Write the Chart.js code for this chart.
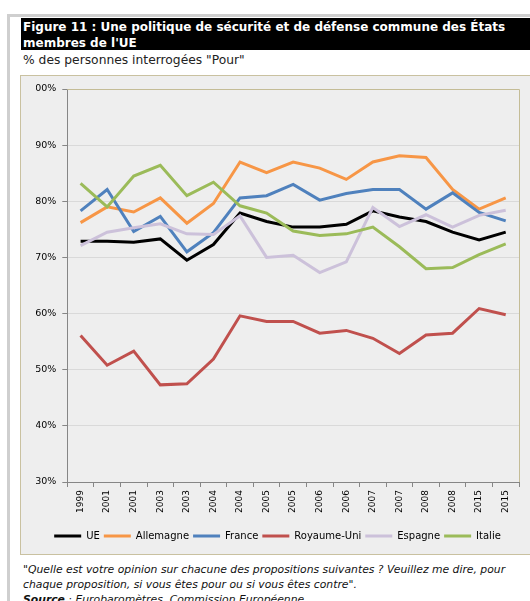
<!DOCTYPE html>
<html>
<head>
<meta charset="utf-8">
<script src="https://cdn.jsdelivr.net/npm/chart.js@4/dist/chart.umd.min.js"></script>
<style>
  body { margin: 0; background: #fff; font-family: "DejaVu Sans", Verdana, sans-serif; overflow: hidden; }
  #frame { position: absolute; left: 7px; top: 14px; width: 600px; height: 700px;
           border-top: 3px solid #cfcfcf; border-left: 3px solid #cfcfcf; }
  #title { position: absolute; left: 21px; top: 18px; width: 520px; height: 32px; background: #000;
           color: #fff; font-weight: bold; font-size: 12px; line-height: 16px; padding: 1px 0 0 2px; box-sizing: border-box; }
  #sub { position: absolute; left: 23px; top: 53px; font-size: 12.3px; color: #222; }
  #box { position: absolute; left: 20px; top: 75px; width: 540px; height: 478px;
         background: #eeeeee; border: 1px solid #c9c1a0; }
  #wrap { position: absolute; left: 20px; top: 76px; width: 510px; height: 477px; }
  #note { position: absolute; left: 23px; top: 562px; font-size: 10.8px; font-style: italic; line-height: 15px; color: #111; }
</style>
</head>
<body>
<div id="frame"></div>
<div id="title">Figure 11 : Une politique de sécurité et de défense commune des États<br>membres de l'UE</div>
<div id="sub">% des personnes interrogées "Pour"</div>
<div id="box"></div>
<div id="wrap"><canvas id="myChart"></canvas></div>
<div id="note">"Quelle est votre opinion sur chacune des propositions suivantes ? Veuillez me dire, pour<br>chaque proposition, si vous êtes pour ou si vous êtes contre".<br><b>Source</b> : Eurobaromètres, Commission Européenne.</div>
<script>
const years = ['1999', '2001', '2001', '2003', '2003', '2004', '2004', '2005', '2005',
    '2006', '2006', '2007', '2007', '2008', '2008', '2015', '2015'];
const ue = [72.9, 72.9, 72.7, 73.3, 69.5, 72.3, 77.9, 76.4, 75.4, 75.4, 75.9, 78.3, 77.2, 76.4, 74.5, 73.1, 74.5];
const allemagne = [76.2, 79.0, 78.1, 80.6, 76.1, 79.6, 87.0, 85.1, 87.0, 85.9, 83.9, 87.0, 88.1, 87.8, 82.1, 78.6, 80.6];
const france = [78.3, 82.1, 74.6, 77.3, 71.0, 74.4, 80.6, 81.0, 83.0, 80.2, 81.4, 82.1, 82.1, 78.6, 81.5, 78.0, 76.5];
const royaumeUni = [56.1, 50.8, 53.3, 47.3, 47.5, 51.9, 59.6, 58.6, 58.6, 56.5, 57.0, 55.6, 52.9, 56.2, 56.5, 60.9, 59.8];
const espagne = [72.1, 74.5, 75.3, 76.0, 74.2, 74.1, 77.4, 70.0, 70.4, 67.3, 69.2, 78.9, 75.5, 77.6, 75.4, 77.5, 78.4];
const italie = [83.2, 79.0, 84.5, 86.4, 81.0, 83.4, 79.2, 77.9, 74.7, 73.9, 74.2, 75.4, 71.9, 68.0, 68.2, 70.5, 72.4];
const yTicks = [30, 40, 50, 60, 70, 80, 90, 100];

const series = [
    { label: 'UE', data: ue, color: '#000000' },
    { label: 'Allemagne', data: allemagne, color: '#f79646' },
    { label: 'France', data: france, color: '#4f81bd' },
    { label: 'Royaume-Uni', data: royaumeUni, color: '#c0504d' },
    { label: 'Espagne', data: espagne, color: '#ccc1da' },
    { label: 'Italie', data: italie, color: '#9bbb59' }
];

// top and right border of the plot area
const plotBorder = {
    id: 'plotBorder',
    afterDraw(chart) {
        const { ctx, chartArea: a } = chart;
        ctx.save();
        ctx.strokeStyle = '#c4bc96';
        ctx.lineWidth = 1;
        ctx.beginPath();
        ctx.moveTo(a.left, a.top + 0.5);
        ctx.lineTo(a.right + 0.5, a.top + 0.5);
        ctx.lineTo(a.right + 0.5, a.bottom);
        ctx.stroke();
        ctx.restore();
    }
};

function localChart() {
    const inf = {
        labels: years,
        datasets: series.map((s, i) => ({
            label: s.label,
            data: s.data,
            borderColor: s.color,
            backgroundColor: s.color,
            borderWidth: 3,
            pointRadius: 0,
            tension: 0,
            order: series.length - i, // last series on top, like the original
        })),
    };
    const options = {
        responsive: true,
        maintainAspectRatio: false,
        animation: false,
        layout: { padding: { top: 13, right: 11, left: 16, bottom: 2 } },
        scales: {
            y: {
                min: 30,
                max: 100,
                afterFit: (s) => { s.width = 31.3; },
                afterBuildTicks: (s) => { s.ticks = yTicks.map((v) => ({ value: v })); },
                ticks: {
                    color: '#000',
                    font: { family: 'DejaVu Sans', size: 9.5 },
                    padding: 6,
                    callback: (v) => v + '%',
                },
                grid: { color: '#d9d9d9', tickColor: '#868686', tickLength: 5 },
                border: { color: '#868686' },
            },
            x: {
                offset: true,
                afterFit: (s) => { s.height = 45; },
                ticks: {
                    color: '#000',
                    font: { family: 'DejaVu Sans', size: 9 },
                    minRotation: 90,
                    maxRotation: 90,
                    autoSkip: false,
                    padding: 3,
                },
                grid: { offset: true, drawOnChartArea: false, tickColor: '#868686', tickLength: 5 },
                border: { color: '#868686' },
            },
        },
        plugins: {
            legend: {
                position: 'bottom',
                labels: {
                    usePointStyle: true,
                    pointStyle: 'line',
                    pointStyleWidth: 27,
                    padding: 4,
                    color: '#000',
                    font: { family: 'DejaVu Sans', size: 10 },
                    sort: (a, b) => a.datasetIndex - b.datasetIndex,
                },
            },
            tooltip: { enabled: false },
        },
    };
    new Chart(document.getElementById('myChart'), { type: 'line', data: inf, options, plugins: [plotBorder] });
}
localChart();
</script>
</body>
</html>
